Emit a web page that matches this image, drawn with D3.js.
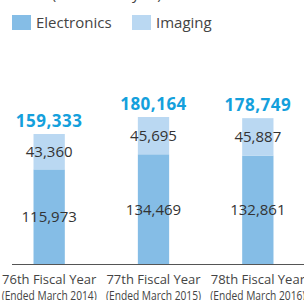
<!DOCTYPE html>
<html>
<head>
<meta charset="utf-8">
<script src="https://cdn.jsdelivr.net/npm/d3@7"></script>
<style>
  body { margin: 0; background: #fff; }
  svg { display: block; font-family: "Open Sans", sans-serif; }
</style>
</head>
<body>
<svg width="304" height="300"></svg>
<script>
// data
const years = ["76th Fiscal Year", "77th Fiscal Year", "78th Fiscal Year"];
const periods = ["(Ended March 2014)", "(Ended March 2015)", "(Ended March 2016)"];
const electronics = [115973, 134469, 132861];
const imaging = [43360, 45695, 45887];
const totals = [159333, 180164, 178749];
const seriesNames = ["Electronics", "Imaging"];
const colors = ["#85bde6", "#bad8f2"];

const svg = d3.select("svg");
const fmt = d3.format(",");

const rows = years.map((y, i) => ({ year: y, Electronics: electronics[i], Imaging: imaging[i] }));
const stacked = d3.stack().keys(seriesNames)(rows);

const x = d3.scaleBand()
    .domain(years)
    .range([-3, 310])
    .paddingInner(0.7)
    .paddingOuter(0.35);

const y = d3.scaleLinear()
    .domain([0, d3.max(totals)])
    .range([264, 117]);

// unit caption, mostly cut off at top
svg.append("text")
    .attr("x", 12).attr("y", -1)
    .attr("font-size", 15).attr("fill", "#444")
    .text("Sales (Millions of yen)");

// legend
const legend = svg.append("g");
const lx = [12, 132];
seriesNames.forEach((name, i) => {
    legend.append("rect")
        .attr("x", lx[i]).attr("y", 15)
        .attr("width", 19).attr("height", 15)
        .attr("fill", colors[i]);
    legend.append("text")
        .attr("x", lx[i] + 24).attr("y", 28)
        .attr("font-size", 15).attr("fill", "#444")
        .text(name);
});

// stacked bars
const layer = svg.append("g").selectAll("g")
    .data(stacked)
    .enter().append("g")
    .attr("fill", (d, i) => colors[i]);

layer.selectAll("rect")
    .data(d => d)
    .enter().append("rect")
    .attr("x", d => x(d.data.year))
    .attr("width", x.bandwidth())
    .attr("y", d => y(d[1]))
    .attr("height", d => y(d[0]) - y(d[1]));

// segment labels
layer.selectAll("text")
    .data((d, i) => d.map(v => ({ v: v, val: i === 0 ? v.data.Electronics : v.data.Imaging })))
    .enter().append("text")
    .attr("x", d => x(d.v.data.year) + x.bandwidth() / 2)
    .attr("y", d => (y(d.v[0]) + y(d.v[1])) / 2)
    .attr("dy", "0.36em")
    .attr("text-anchor", "middle")
    .attr("font-size", 15)
    .attr("fill", "#333")
    .text(d => fmt(d.val));

// totals
svg.append("g").selectAll("text")
    .data(totals)
    .enter().append("text")
    .attr("x", (d, i) => x(years[i]) + x.bandwidth() / 2)
    .attr("y", d => y(d) - 7)
    .attr("text-anchor", "middle")
    .attr("font-size", 17)
    .attr("font-weight", 700)
    .attr("letter-spacing", "0.5px")
    .attr("fill", "#14a0dc")
    .text(d => fmt(d));

// baseline
svg.append("line")
    .attr("x1", 12).attr("x2", 304)
    .attr("y1", y(0) + 0.5).attr("y2", y(0) + 0.5)
    .attr("stroke", "#555").attr("stroke-width", 1);

// category labels
const cat = svg.append("g").selectAll("text")
    .data(years)
    .enter().append("text")
    .attr("text-anchor", "middle")
    .attr("fill", "#444");

cat.append("tspan")
    .attr("x", d => x(d) + x.bandwidth() / 2)
    .attr("y", 283.5)
    .attr("font-size", 13)
    .text(d => d);

cat.append("tspan")
    .attr("x", d => x(d) + x.bandwidth() / 2)
    .attr("y", 299.5)
    .attr("font-size", 12)
    .attr("textLength", 95)
    .attr("lengthAdjust", "spacingAndGlyphs")
    .text((d, i) => periods[i]);
</script>
</body>
</html>
